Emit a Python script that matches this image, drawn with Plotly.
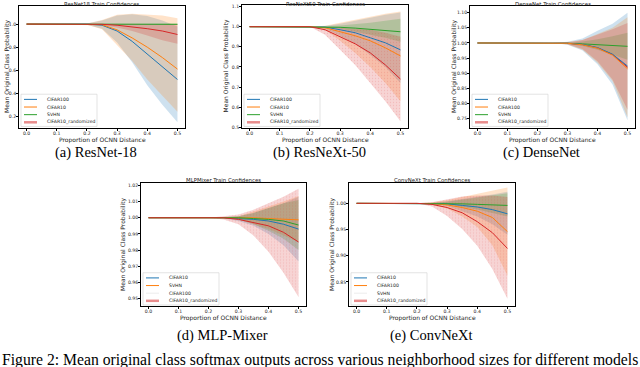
import plotly.graph_objects as go

W, H = 640, 367

x_vals = [0.0, 0.05, 0.1, 0.15, 0.2, 0.25, 0.3, 0.35, 0.4, 0.45, 0.5]
x_ticks = [0.0, 0.1, 0.2, 0.3, 0.4, 0.5]
x_tick_labels = ["0.0", "0.1", "0.2", "0.3", "0.4", "0.5"]

# ---------------- (a) ResNet18 ----------------
r18_cifar100_mean = [1, 1, 1, 1, 1, 0.99, 0.94, 0.85, 0.74, 0.63, 0.52]
r18_cifar100_lo = [1, 1, 1, 1, 0.995, 0.96, 0.84, 0.67, 0.47, 0.30, 0.15]
r18_cifar100_hi = [1, 1, 1, 1, 1.005, 1.03, 1.075, 1.085, 1.07, 1.03, 0.98]
r18_cifar10_mean = [1, 1, 1, 1, 1, 0.995, 0.95, 0.88, 0.80, 0.71, 0.61]
r18_cifar10_lo = [1, 1, 1, 1, 0.995, 0.955, 0.82, 0.68, 0.52, 0.38, 0.24]
r18_cifar10_hi = [1, 1, 1, 1, 1.005, 1.035, 1.08, 1.09, 1.085, 1.075, 1.05]
r18_svhn_mean = [1, 1, 1, 1, 1, 1, 1, 0.999, 0.999, 0.998, 0.998]
r18_svhn_lo = [1, 1, 1, 1, 1, 0.999, 0.998, 0.996, 0.995, 0.993, 0.992]
r18_svhn_hi = [1, 1, 1, 1, 1, 1.001, 1.002, 1.002, 1.003, 1.003, 1.004]
r18_rand_mean = [1, 1, 1, 1, 1, 0.998, 0.99, 0.977, 0.96, 0.94, 0.91]
r18_rand_lo = [1, 1, 1, 1, 1, 0.99, 0.97, 0.94, 0.90, 0.86, 0.83]
r18_rand_hi = [1, 1, 1, 1, 1, 1.003, 1.006, 1.006, 1.004, 1.002, 1.0]

# ---------------- (b) ResNeXt50 ----------------
rx50_cifar100_mean = [1, 1, 1, 1, 1, 0.998, 0.985, 0.97, 0.945, 0.92, 0.885]
rx50_cifar100_lo = [1, 1, 1, 1, 1, 0.99, 0.955, 0.915, 0.86, 0.80, 0.72]
rx50_cifar100_hi = [1, 1, 1, 1, 1, 1.003, 1.015, 1.03, 1.045, 1.06, 1.07]
rx50_cifar10_mean = [1, 1, 1, 1, 1, 0.995, 0.975, 0.955, 0.93, 0.895, 0.855]
rx50_cifar10_lo = [1, 1, 1, 1, 1, 0.985, 0.93, 0.87, 0.80, 0.72, 0.63]
rx50_cifar10_hi = [1, 1, 1, 1, 1, 1.005, 1.02, 1.035, 1.05, 1.065, 1.075]
rx50_svhn_mean = [1, 1, 1, 1, 1, 1, 0.997, 0.993, 0.988, 0.982, 0.975]
rx50_svhn_lo = [1, 1, 1, 1, 1, 0.998, 0.99, 0.975, 0.96, 0.945, 0.925]
rx50_svhn_hi = [1, 1, 1, 1, 1, 1.002, 1.006, 1.012, 1.02, 1.03, 1.04]
rx50_rand_mean = [1, 1, 1, 1, 1, 0.985, 0.95, 0.915, 0.87, 0.81, 0.74]
rx50_rand_lo = [1, 1, 1, 1, 1, 0.96, 0.885, 0.81, 0.72, 0.63, 0.53]
rx50_rand_hi = [1, 1, 1, 1, 1, 1.0, 0.995, 0.99, 0.985, 0.97, 0.95]

# ---------------- (c) DenseNet ----------------
dn_cifar10_mean = [1, 1, 1, 1, 1, 1, 0.999, 0.995, 0.985, 0.963, 0.924]
dn_cifar10_lo = [1, 1, 1, 1, 1, 1, 0.994, 0.975, 0.93, 0.863, 0.745]
dn_cifar10_hi = [1, 1, 1, 1, 1, 1, 1.004, 1.015, 1.04, 1.063, 1.10]
dn_cifar100_mean = [1, 1, 1, 1, 1, 1, 0.999, 0.994, 0.983, 0.96, 0.915]
dn_cifar100_lo = [1, 1, 1, 1, 1, 1, 0.995, 0.978, 0.935, 0.875, 0.755]
dn_cifar100_hi = [1, 1, 1, 1, 1, 1, 1.003, 1.01, 1.03, 1.05, 1.085]
dn_svhn_mean = [1, 1, 1, 1, 1, 1, 0.999, 0.997, 0.995, 0.992, 0.989]
dn_svhn_lo = [1, 1, 1, 1, 1, 1, 0.997, 0.99, 0.978, 0.962, 0.945]
dn_svhn_hi = [1, 1, 1, 1, 1, 1, 1.001, 1.005, 1.012, 1.022, 1.034]
dn_rand_mean = [1, 1, 1, 1, 1, 1, 0.999, 0.995, 0.984, 0.962, 0.92]
dn_rand_lo = [1, 1, 1, 1, 1, 1, 0.996, 0.98, 0.94, 0.88, 0.78]
dn_rand_hi = [1, 1, 1, 1, 1, 1, 1.002, 1.01, 1.028, 1.045, 1.066]

# ---------------- (d) MLPMixer ----------------
mm_cifar10_mean = [1, 1, 1, 1, 1, 1, 0.9995, 0.999, 0.998, 0.996, 0.993]
mm_cifar10_lo = [1, 1, 1, 1, 1, 0.9995, 0.998, 0.995, 0.99, 0.983, 0.973]
mm_cifar10_hi = [1, 1, 1, 1, 1, 1.0005, 1.001, 1.003, 1.006, 1.009, 1.013]
mm_svhn_mean = [1, 1, 1, 1, 1, 1, 1, 1, 0.9995, 0.999, 0.9987]
mm_svhn_lo = [1, 1, 1, 1, 1, 0.9997, 0.999, 0.996, 0.993, 0.989, 0.985]
mm_svhn_hi = [1, 1, 1, 1, 1, 1.0003, 1.001, 1.004, 1.007, 1.010, 1.0135]
mm_cifar100_mean = [1, 1, 1, 1, 1, 1, 1, 0.9995, 0.999, 0.998, 0.9955]
mm_cifar100_lo = [1, 1, 1, 1, 1, 0.9997, 0.999, 0.996, 0.992, 0.987, 0.98]
mm_cifar100_hi = [1, 1, 1, 1, 1, 1.0003, 1.001, 1.003, 1.006, 1.009, 1.011]
mm_rand_mean = [1, 1, 1, 1, 1, 1, 0.999, 0.997, 0.995, 0.991, 0.985]
mm_rand_lo = [1, 1, 1, 1, 1, 0.999, 0.996, 0.989, 0.979, 0.966, 0.951]
mm_rand_hi = [1, 1, 1, 1, 1, 1.001, 1.002, 1.005, 1.009, 1.013, 1.018]

# ---------------- (e) ConvNeXt ----------------
cn_cifar10_mean = [1, 1, 1, 1, 1, 1, 0.999, 0.996, 0.993, 0.988, 0.98]
cn_cifar10_lo = [1, 1, 1, 1, 1, 0.999, 0.995, 0.985, 0.975, 0.96, 0.94]
cn_cifar10_hi = [1, 1, 1, 1, 1, 1.001, 1.004, 1.008, 1.012, 1.017, 1.022]
cn_cifar100_mean = [1, 1, 1, 1, 1, 0.9995, 0.997, 0.992, 0.985, 0.973, 0.946]
cn_cifar100_lo = [1, 1, 1, 1, 1, 0.997, 0.99, 0.975, 0.955, 0.92, 0.862]
cn_cifar100_hi = [1, 1, 1, 1, 1, 1.002, 1.006, 1.012, 1.018, 1.025, 1.03]
cn_svhn_mean = [1, 1, 1, 1, 1, 1, 1, 0.999, 0.998, 0.997, 0.996]
cn_svhn_lo = [1, 1, 1, 1, 1, 0.9995, 0.998, 0.993, 0.988, 0.982, 0.975]
cn_svhn_hi = [1, 1, 1, 1, 1, 1.0005, 1.003, 1.007, 1.011, 1.015, 1.019]
cn_rand_mean = [1, 1, 1, 1, 1, 0.998, 0.992, 0.982, 0.965, 0.944, 0.914]
cn_rand_lo = [1, 1, 1, 1, 1, 0.994, 0.976, 0.951, 0.919, 0.875, 0.818]
cn_rand_hi = [1, 1, 1, 1, 1, 1.002, 1.008, 1.013, 1.015, 1.015, 1.012]

BLUE = (31, 119, 180)
ORANGE = (255, 127, 14)
GREEN = (44, 160, 44)
RED = (214, 39, 40)

def rgb(c, a=1.0):
    return "rgba(%d,%d,%d,%.3f)" % (c[0], c[1], c[2], a)

RED_SWATCH = "rgba(232,140,140,1)"
FAINT = "rgba(236,236,236,1)"

panels = [
    dict(title="ResNet18 Train Confidences", caption="(a) ResNet-18", cap_x=96,
         box=(19, 5, 185, 128), yrange=[0.1, 1.157],
         yticks=[0.2, 0.4, 0.6, 0.8, 1.0], yfmt="%.1f", ylab_x=7, hatch=False, line_order=[0, 1, 2, 3],
         series=[("CIFAR100", BLUE, r18_cifar100_mean, r18_cifar100_lo, r18_cifar100_hi, None),
                 ("CIFAR10", ORANGE, r18_cifar10_mean, r18_cifar10_lo, r18_cifar10_hi, None),
                 ("SVHN", GREEN, r18_svhn_mean, r18_svhn_lo, r18_svhn_hi, None),
                 ("CIFAR10_randomized", RED, r18_rand_mean, r18_rand_lo, r18_rand_hi, RED_SWATCH)]),
    dict(title="ResNeXt50 Train Confidences", caption="(b) ResNeXt-50", cap_x=319,
         box=(242, 4, 408, 128), yrange=[0.497, 1.108],
         yticks=[0.5, 0.6, 0.7, 0.8, 0.9, 1.0, 1.1], yfmt="%.1f", ylab_x=226, hatch=True, line_order=[0, 1, 2, 3],
         series=[("CIFAR100", BLUE, rx50_cifar100_mean, rx50_cifar100_lo, rx50_cifar100_hi, None),
                 ("CIFAR10", ORANGE, rx50_cifar10_mean, rx50_cifar10_lo, rx50_cifar10_hi, None),
                 ("SVHN", GREEN, rx50_svhn_mean, rx50_svhn_lo, rx50_svhn_hi, None),
                 ("CIFAR10_randomized", RED, rx50_rand_mean, rx50_rand_lo, rx50_rand_hi, RED_SWATCH)]),
    dict(title="DenseNet Train Confidences", caption="(c) DenseNet", cap_x=541,
         box=(470, 5, 635, 128), yrange=[0.72, 1.122],
         yticks=[0.75, 0.80, 0.85, 0.90, 0.95, 1.00, 1.05, 1.10], yfmt="%.2f", ylab_x=454, hatch=False,
         line_order=[3, 2, 0, 1],
         series=[("CIFAR10", BLUE, dn_cifar10_mean, dn_cifar10_lo, dn_cifar10_hi, None),
                 ("CIFAR100", ORANGE, dn_cifar100_mean, dn_cifar100_lo, dn_cifar100_hi, None),
                 ("SVHN", GREEN, dn_svhn_mean, dn_svhn_lo, dn_svhn_hi, None),
                 ("CIFAR10_randomized", RED, dn_rand_mean, dn_rand_lo, dn_rand_hi, RED_SWATCH)]),
    dict(title="MLPMixer Train Confidences", caption="(d) MLP-Mixer", cap_x=222,
         box=(141, 184, 306, 308), yrange=[0.9451, 1.0212],
         yticks=[0.95, 0.96, 0.97, 0.98, 0.99, 1.00, 1.01, 1.02], yfmt="%.2f", ylab_x=123, hatch=True,
         line_order=[0, 1, 2, 3],
         series=[("CIFAR10", BLUE, mm_cifar10_mean, mm_cifar10_lo, mm_cifar10_hi, None),
                 ("SVHN", ORANGE, mm_svhn_mean, mm_svhn_lo, mm_svhn_hi, None),
                 ("CIFAR100", GREEN, mm_cifar100_mean, mm_cifar100_lo, mm_cifar100_hi, FAINT),
                 ("CIFAR10_randomized", RED, mm_rand_mean, mm_rand_lo, mm_rand_hi, RED_SWATCH)]),
    dict(title="ConvNeXt Train Confidences", caption="(e) ConvNeXt", cap_x=431,
         box=(349, 184, 515, 308), yrange=[0.8033, 1.0378],
         yticks=[0.85, 0.90, 0.95, 1.00], yfmt="%.2f", ylab_x=332, hatch=True, line_order=[0, 1, 2, 3],
         series=[("CIFAR10", BLUE, cn_cifar10_mean, cn_cifar10_lo, cn_cifar10_hi, None),
                 ("CIFAR100", ORANGE, cn_cifar100_mean, cn_cifar100_lo, cn_cifar100_hi, None),
                 ("SVHN", GREEN, cn_svhn_mean, cn_svhn_lo, cn_svhn_hi, FAINT),
                 ("CIFAR10_randomized", RED, cn_rand_mean, cn_rand_lo, cn_rand_hi, RED_SWATCH)]),
]

def fx(p):
    return p / W

def fy(p):
    return 1 - p / H

fig = go.Figure()
layout = dict(width=W, height=H, autosize=False, margin=dict(l=0, r=0, t=0, b=0),
              paper_bgcolor="white", plot_bgcolor="white", showlegend=False)
shapes = []
annotations = []
TXT = "#222222"
FONT = "DejaVu Sans"

for i, p in enumerate(panels):
    n = "" if i == 0 else str(i + 1)
    xa, ya = "x" + n, "y" + n
    l, t, r, b = p["box"]
    bottom_row = t > 100
    common = dict(showline=True, mirror=True, linecolor="black", linewidth=0.8,
                  ticks="outside", ticklen=2, tickwidth=0.6, tickcolor="black",
                  showgrid=False, zeroline=False,
                  tickfont=dict(family=FONT, size=4.6, color=TXT))
    layout["xaxis" + n] = dict(domain=[fx(l), fx(r)], anchor=ya, range=[-0.025, 0.525],
                               tickvals=x_ticks, ticktext=x_tick_labels,
                               ticklabelstandoff=-2 if bottom_row else -1, **common)
    layout["yaxis" + n] = dict(domain=[fy(b), fy(t)], anchor=xa, range=p["yrange"],
                               tickvals=p["yticks"], ticktext=[p["yfmt"] % v for v in p["yticks"]],
                               ticklabelstandoff=-1, **common)
    for (name, col, mean, lo, hi, sw) in p["series"]:
        fill_kw = dict(fillcolor=rgb(col, 0.22))
        if p["hatch"] and col == RED:
            fill_kw["fillpattern"] = dict(shape=".", size=3, solidity=0.15,
                                          fgcolor=rgb(col, 0.3), bgcolor=rgb(col, 0.2))
        fig.add_trace(go.Scatter(x=x_vals + x_vals[::-1], y=hi + lo[::-1], fill="toself",
                                 mode="lines", line=dict(width=0), hoverinfo="skip",
                                 xaxis=xa, yaxis=ya, **fill_kw))
    for k in p["line_order"]:
        name, col, mean, lo, hi, sw = p["series"][k]
        fig.add_trace(go.Scatter(x=x_vals, y=mean, mode="lines", name=name,
                                 line=dict(color=rgb(col), width=1.0),
                                 xaxis=xa, yaxis=ya))
    cx = (l + r) / 2
    annotations.append(dict(text=p["title"], x=fx(cx), y=fy(max(t - 3.2, 2.6)), xref="paper", yref="paper",
                            xanchor="center", yanchor="middle", showarrow=False,
                            font=dict(family=FONT, size=5.4, color=TXT)))
    annotations.append(dict(text="Proportion of OCNN Distance", x=fx(cx),
                            y=fy(b + (11.5 if bottom_row else 12)),
                            xref="paper", yref="paper", xanchor="center", yanchor="middle",
                            showarrow=False, font=dict(family=FONT, size=6.0, color=TXT)))
    annotations.append(dict(text="Mean Original Class Probability", x=fx(p["ylab_x"]),
                            y=fy((t + b) / 2), xref="paper", yref="paper", textangle=-90,
                            xanchor="center", yanchor="middle", showarrow=False,
                            font=dict(family=FONT, size=6.0, color=TXT)))
    cap_y = 337 if bottom_row else 153
    annotations.append(dict(text=p["caption"], x=fx(p["cap_x"]), y=fy(cap_y), xref="paper", yref="paper",
                            xanchor="center", yanchor="middle", showarrow=False,
                            font=dict(family="Liberation Serif", size=14.5, color="black")))
    lx0, lx1 = l + 2, l + 78
    ly1, ly0 = b - 1.5, b - 34
    shapes.append(dict(type="rect", xref="paper", yref="paper", x0=fx(lx0), x1=fx(lx1),
                       y0=fy(ly1), y1=fy(ly0), line=dict(color="#d0d0d0", width=0.6),
                       fillcolor="rgba(255,255,255,0.85)", layer="above"))
    for k, (name, col, mean, lo, hi, sw) in enumerate(p["series"]):
        ey = ly0 + 5.2 + k * 7.7
        shapes.append(dict(type="line", xref="paper", yref="paper", x0=fx(lx0 + 3), x1=fx(lx0 + 16),
                           y0=fy(ey), y1=fy(ey), layer="above",
                           line=dict(color=sw if sw else rgb(col), width=2.5 if sw == RED_SWATCH else 1.0)))
        annotations.append(dict(text=name, x=fx(lx0 + 24), y=fy(ey), xref="paper", yref="paper",
                                xanchor="left", yanchor="middle", showarrow=False,
                                font=dict(family=FONT, size=4.6, color=TXT)))

annotations.append(dict(text="Figure 2: Mean original class softmax outputs across various neighborhood sizes for different models",
                        x=fx(0), y=fy(362), xref="paper", yref="paper", xanchor="left",
                        yanchor="middle", showarrow=False,
                        font=dict(family="Liberation Serif", size=15.7, color="black")))

layout["shapes"] = shapes
layout["annotations"] = annotations
fig.update_layout(**layout)
fig.write_html("out.html", config={"displayModeBar": False},
               post_script="document.body.style.margin='0px';document.body.style.overflow='hidden';")
